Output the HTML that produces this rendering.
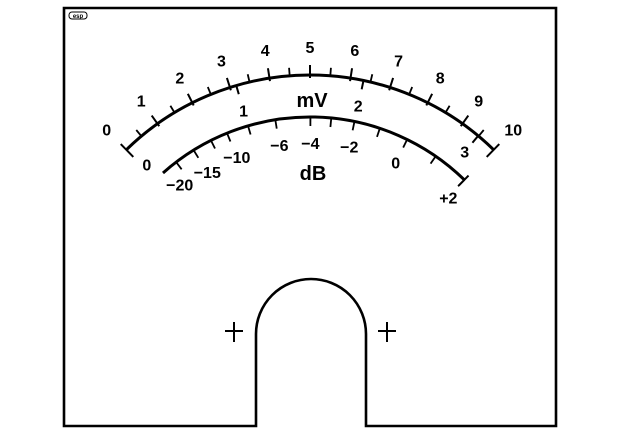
<!DOCTYPE html>
<html><head><meta charset="utf-8"><style>
html,body{margin:0;padding:0;background:#fff;}
svg{display:block;}
text{font-family:"Liberation Sans",sans-serif;font-weight:bold;fill:#000;}
</style></head><body>
<svg id="meter" width="640" height="440" viewBox="0 0 640 440" xmlns="http://www.w3.org/2000/svg">
<path d="M256,426 L64,426 L64,8 L556,8 L556,426 L366,426 L366,334 A55,55 0 0 0 256,334 Z" fill="none" stroke="#000" stroke-width="2.6"/>
<g>
<rect x="69" y="12" width="18" height="7" rx="3" fill="none" stroke="#000" stroke-width="1"/>
<text x="78" y="18" font-size="6" text-anchor="middle">esp</text>
</g>
<g stroke="#000" stroke-width="2"><line x1="225" y1="331" x2="243" y2="331"/><line x1="234" y1="322" x2="234" y2="342"/></g>
<g stroke="#000" stroke-width="2"><line x1="378" y1="331" x2="396" y2="331"/><line x1="387" y1="322" x2="387" y2="342"/></g>
<g id="scales"></g>
<text x="312" y="107" font-size="20" text-anchor="middle">mV</text>
<text x="313" y="180" font-size="20" text-anchor="middle">dB</text>
</svg>
<script>
// mV scale data
const mvMajor = [0,1,2,3,4,5,6,7,8,9,10];
const mvMinor = [0.5,1.5,2.5,3.5,4.5,5.5,6.5,7.5,8.5,9.5];
const mvLabels = ["0","1","2","3","4","5","6","7","8","9","10"];
// secondary (0-3) range labels placed at sqrt scaled positions
const rangeValues = [1,2,3];
const rangeLabels = ["1","2","3"];
// dB scale data
const dbTicks = [-20,-15,-12,-10,-8,-6,-4,-3,-2,-1,0,1,2];
const dbLabelValues = [-15,-10,-6,-4,-2,0];
const dbLabels = ["\u221215","\u221210","\u22126","\u22124","\u22122","0"];

const CX=310, CY=338, RO=263, RI=221;
const A0=-44.3, A1=44.3;
const NS="http://www.w3.org/2000/svg";
const g=document.getElementById('scales');
function angV(v){return A0+(A1-A0)*v/10;}
function angR(v){return angV(v*Math.sqrt(10));}
function angDb(d){return angV(10*Math.pow(10,(d-2)/20));}
function pt(a,r){const t=a*Math.PI/180;return [CX+r*Math.sin(t),CY-r*Math.cos(t)];}
function line(a,r1,r2,w,name){const p=pt(a,r1),q=pt(a,r2);const l=document.createElementNS(NS,'line');
l.setAttribute('x1',p[0]);l.setAttribute('y1',p[1]);l.setAttribute('x2',q[0]);l.setAttribute('y2',q[1]);
l.setAttribute('stroke','#000');l.setAttribute('stroke-width',w);


g.appendChild(l);}
function text(a,r,s,size,name){const p=pt(a,r);const t=document.createElementNS(NS,'text');
t.setAttribute('x',p[0]);t.setAttribute('y',p[1]+size*0.36);t.setAttribute('font-size',size);t.setAttribute('text-anchor','middle');
t.textContent=s;


g.appendChild(t);}
function arc(r,a0,a1,name){const p=pt(a0,r),q=pt(a1,r);const e=document.createElementNS(NS,'path');
e.setAttribute('d',`M${p[0]},${p[1]} A${r},${r} 0 0 1 ${q[0]},${q[1]}`);
e.setAttribute('fill','none');e.setAttribute('stroke','#000');e.setAttribute('stroke-width',3);


g.appendChild(e);}
arc(RO,A0,A1,'mv-arc');
mvMajor.forEach((v,i)=>{
  const end=(i===0||i===mvMajor.length-1);
  line(angV(v),end?RO-10:RO-3,end?RO+8:RO+10,2,'mv-major-tick');
  text(angV(v),RO+28,mvLabels[i],16,'mv-tick-label');
});
mvMinor.forEach(v=>line(angV(v),RO-1,RO+8,1.8,'mv-minor-tick'));
rangeValues.forEach((v,i)=>{line(angR(v),RO-9,RO,2,'range-tick');text(angR(v),v===3?RO-21:RO-26,rangeLabels[i],16,'range-tick-label');});
text(-43.3,RO-25,"0",16,'range-zero-label');
arc(RI,-41.7,angDb(2),'db-arc');
dbTicks.forEach(d=>line(angDb(d),RI-9,RI,1.8,'db-tick'));
line(angDb(2),RI-8,RI+6,2,'db-end-tick');
dbLabelValues.forEach((d,i)=>text(angDb(d),RI-26,dbLabels[i],16,'db-tick-label'));
text(-40.4,201,"\u221220",16,'db-tick-label');
text(44.6,197,"+2",16,'db-tick-label');
</script>
</body></html>
